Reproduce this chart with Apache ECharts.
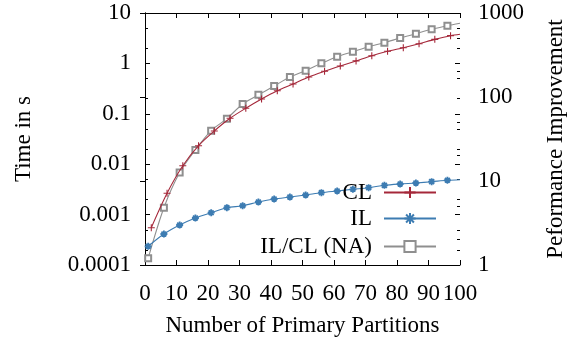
<!DOCTYPE html>
<html>
<head>
<meta charset="utf-8">
<script src="https://cdn.jsdelivr.net/npm/echarts@6/dist/echarts.min.js"></script>
<style>
  html, body { margin: 0; padding: 0; background: #fff; }
  #chart { width: 579px; height: 349px; }
</style>
</head>
<body>
<div id="chart"></div>
<script>
// data
const clX = [2, 7, 12, 17, 22, 27, 32, 37, 42, 47, 52, 57, 62, 67, 72, 77, 82, 87, 92, 97, 100];
const clY = [0.00055, 0.00265, 0.0093, 0.0233, 0.0456, 0.0814, 0.129, 0.197, 0.287, 0.39, 0.537,
  0.697, 0.888, 1.12, 1.42, 1.74, 2.05, 2.46, 3.0, 3.55, 3.78];

const ilX = [1, 6, 11, 16, 21, 26, 31, 36, 41, 46, 51, 56, 61, 66, 71, 76, 81, 86, 91, 96, 100];
const ilY = [0.000235, 0.000412, 0.000622, 0.000857, 0.00109, 0.00137, 0.0015, 0.00178, 0.00204,
  0.00223, 0.00245, 0.00272, 0.00294, 0.00318, 0.00342, 0.00381, 0.00405, 0.00424, 0.0045, 0.0048, 0.00492];

const ratioY = [1.2, 4.8, 12.6, 23.4, 39.7, 55.2, 82.6, 106, 135, 173, 206, 252, 302, 346, 397,
  443, 504, 567, 640, 706, 754];

// minor tick values (2 and 5 of each decade)
const leftMinor = [0.0002, 0.0005, 0.002, 0.005, 0.02, 0.05, 0.2, 0.5, 2, 5];
const rightMinor = [2, 5, 20, 50, 200, 500];

const FONT = "Liberation Serif";
const FS = 23;
const RED = "#a5283a";
const BLUE = "#3d7cb2";
const GRAY = "#8f8f8f";

// every 5th sample gets a marker; the end point at 100 is line only
const pairs = (xs, ys) => xs.map((x, i) => ({
  value: [x, ys[i]],
  symbol: i === xs.length - 1 ? "none" : undefined,
}));

const chart = echarts.init(document.getElementById("chart"));

const baseTick = { show: true, inside: true, length: 5, lineStyle: { color: "#000", width: 1 } };
const minorTick = { show: true, inside: true, length: 3, lineStyle: { color: "#000", width: 1 } };
const labelStyle = { fontFamily: FONT, fontSize: FS, color: "#000" };
const nameStyle = { fontFamily: FONT, fontSize: FS, color: "#000" };

const legendBase = {
  orient: "horizontal",
  align: "right",
  right: 142,
  padding: 0,
  itemWidth: 52,
  itemHeight: 14,
  textStyle: { fontFamily: FONT, fontSize: FS, color: "#000", lineHeight: 22, padding: [0, 7, 0, 0] },
  selectedMode: false,
};

const option = {
  animation: false,
  grid: { left: 145, right: 119, top: 13, bottom: 84 },
  legend: [
    Object.assign({}, legendBase, { data: ["CL"], top: 181 }),
    Object.assign({}, legendBase, { data: ["IL"], top: 207 }),
    Object.assign({}, legendBase, { data: ["IL/CL (NA)"], top: 235 }),
  ],
  xAxis: [
    {
      type: "value",
      min: 0,
      max: 100,
      interval: 10,
      name: "Number of Primary Partitions",
      nameLocation: "middle",
      nameGap: 49,
      nameTextStyle: nameStyle,
      axisLine: { show: true, lineStyle: { color: "#000", width: 1 } },
      axisTick: baseTick,
      axisLabel: Object.assign({ margin: 17 }, labelStyle),
      splitLine: { show: false },
    },
    {
      type: "value",
      position: "top",
      min: 0,
      max: 100,
      interval: 10,
      axisLine: { show: true, lineStyle: { color: "#000", width: 1 } },
      axisTick: baseTick,
      axisLabel: { show: false },
      splitLine: { show: false },
    },
  ],
  yAxis: [
    {
      type: "log",
      logBase: 10,
      min: 0.0001,
      max: 10,
      position: "left",
      name: "Time in s",
      nameLocation: "middle",
      nameRotate: 90,
      nameGap: 110,
      nameTextStyle: nameStyle,
      axisLine: { show: true, lineStyle: { color: "#000", width: 1 } },
      axisTick: baseTick,
      axisLabel: Object.assign({ margin: 14, formatter: (v) => String(v) }, labelStyle),
      splitLine: { show: false },
    },
    {
      type: "log",
      logBase: 10,
      min: 1,
      max: 1000,
      position: "right",
      name: "Peformance Improvement",
      nameLocation: "middle",
      nameRotate: 90,
      nameGap: 84,
      nameTextStyle: nameStyle,
      axisLine: { show: true, lineStyle: { color: "#000", width: 1 } },
      axisTick: baseTick,
      axisLabel: Object.assign({ margin: 18, formatter: (v) => String(v) }, labelStyle),
      splitLine: { show: false },
    },
    {
      // mirrored left ticks on the right side
      type: "log",
      logBase: 10,
      min: 0.0001,
      max: 10,
      position: "right",
      axisLine: { show: false },
      axisTick: baseTick,
      axisLabel: { show: false },
      splitLine: { show: false },
    },
    {
      type: "log",
      logBase: 10,
      min: 0.0001,
      max: 10,
      position: "left",
      axisLine: { show: false },
      axisTick: Object.assign({ customValues: leftMinor }, minorTick),
      axisLabel: { show: false },
      splitLine: { show: false },
    },
    {
      type: "log",
      logBase: 10,
      min: 0.0001,
      max: 10,
      position: "right",
      axisLine: { show: false },
      axisTick: Object.assign({ customValues: leftMinor }, minorTick),
      axisLabel: { show: false },
      splitLine: { show: false },
    },
    {
      type: "log",
      logBase: 10,
      min: 1,
      max: 1000,
      position: "right",
      axisLine: { show: false },
      axisTick: Object.assign({ customValues: rightMinor }, minorTick),
      axisLabel: { show: false },
      splitLine: { show: false },
    },
  ],
  series: [
    {
      name: "CL",
      type: "line",
      xAxisIndex: 0,
      yAxisIndex: 0,
      smooth: 0.3,
      data: pairs(clX, clY),
      symbol: "path://M0,5L10,5M5,0L5,10",
      symbolSize: 7,
      lineStyle: { color: RED, width: 1.1 },
      itemStyle: { color: RED, borderColor: RED, borderWidth: 1.1 },
      z: 3,
    },
    {
      name: "IL",
      type: "line",
      xAxisIndex: 0,
      yAxisIndex: 0,
      smooth: 0.3,
      data: pairs(ilX, ilY),
      symbol: "path://M0,5L10,5M5,0L5,10M1.5,1.5L8.5,8.5M8.5,1.5L1.5,8.5",
      symbolSize: 7,
      lineStyle: { color: BLUE, width: 1.1 },
      itemStyle: { color: BLUE, borderColor: BLUE, borderWidth: 1.8 },
      z: 3,
    },
    {
      name: "IL/CL (NA)",
      type: "line",
      xAxisIndex: 0,
      yAxisIndex: 1,
      smooth: 0.3,
      data: pairs(ilX, ratioY),
      symbol: "emptyRect",
      symbolSize: 6,
      lineStyle: { color: GRAY, width: 1.1 },
      itemStyle: { color: GRAY, borderColor: GRAY, borderWidth: 1.1 },
      z: 2,
    },
  ],
};

chart.setOption(option);
</script>
</body>
</html>
